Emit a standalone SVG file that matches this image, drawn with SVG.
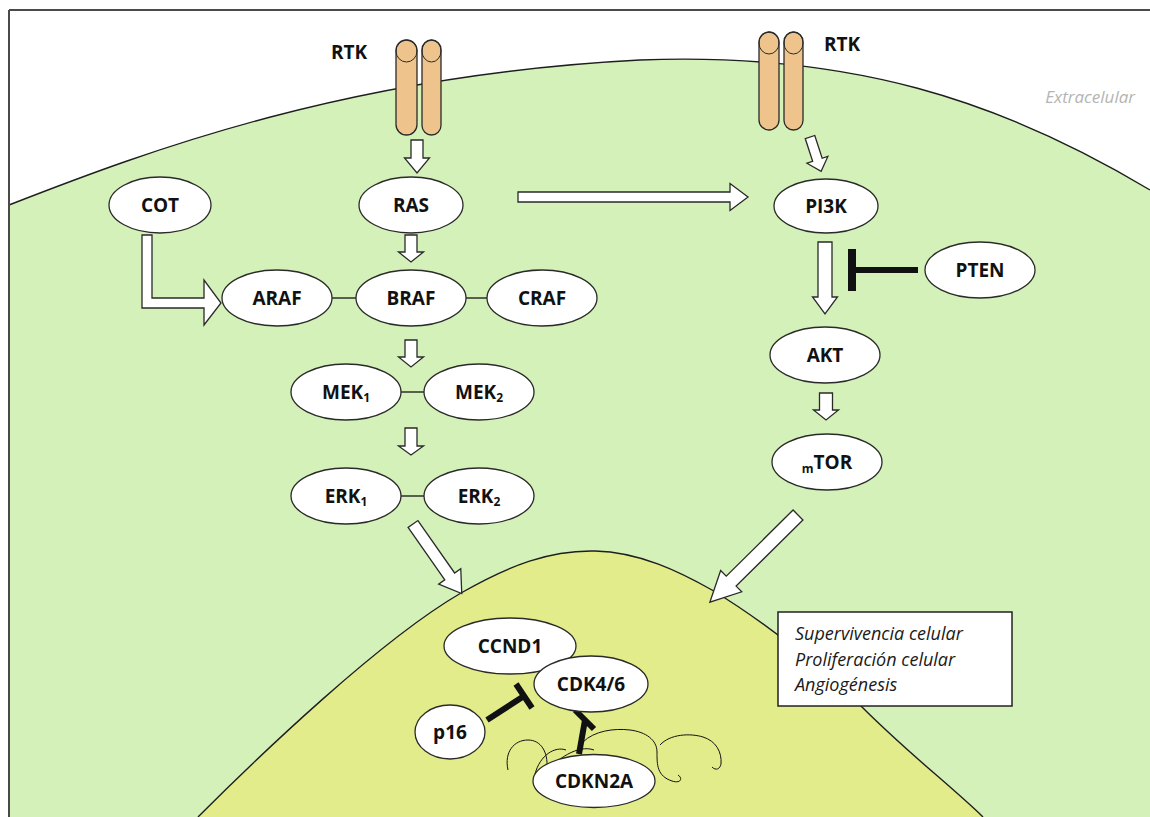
<svg xmlns="http://www.w3.org/2000/svg" width="1150" height="817" viewBox="0 0 1150 817">
<style>
.node ellipse{fill:#ffffff;stroke:#2a2a2a;stroke-width:1.3}
.lbl{font-family:"Open Sans","Liberation Sans",sans-serif;font-weight:700;font-size:19px;fill:#111;text-anchor:middle}
.sub{font-size:12px}
.arr{fill:#ffffff;stroke:#2a2a2a;stroke-width:1.3;stroke-linejoin:miter}
.link{stroke:#111;stroke-width:1.3;fill:none}
.inh{stroke:#111;stroke-width:6;fill:none}
.mem{fill:none;stroke:#1e1e1e;stroke-width:1.4}
.pillar{fill:#efc48c;stroke:#2a2a2a;stroke-width:1.3}
.info{font-family:"Open Sans","Liberation Sans",sans-serif;font-style:italic;font-size:18px;fill:#1a1a1a}
</style>
<rect x="0" y="0" width="1150" height="817" fill="#ffffff"/>
<g id="background">
<path d="M9,205 C150,150 350,75 640,60 C850,52 1000,100 1150,190 L1150,817 L9,817 Z" fill="#d4f1b9"/>
<path class="mem" d="M9,205 C150,150 350,75 640,60 C850,52 1000,100 1150,190"/>
<path d="M198,817 C260,755 380,640 461,593 C510,565 550,550 595,551 C640,552 680,572 712,590 C770,625 830,675 862,707 C910,755 950,785 983,817 Z" fill="#e3ec8b"/>
<path class="mem" d="M198,817 C260,755 380,640 461,593 C510,565 550,550 595,551 C640,552 680,572 712,590 C770,625 830,675 862,707 C910,755 950,785 983,817"/>
<line x1="9" y1="10" x2="1150" y2="10" stroke="#4a4a4a" stroke-width="2"/>
<line x1="9" y1="10" x2="9" y2="817" stroke="#4a4a4a" stroke-width="2"/>
<text x="1135" y="103" font-family="Open Sans, Liberation Sans, sans-serif" font-style="italic" font-size="17" fill="#b4b4b4" text-anchor="end">Extracelular</text>
</g>
<g id="rtk1">
<rect class="pillar" x="396" y="40" width="21" height="95" rx="10.5"/>
<rect class="pillar" x="422" y="40" width="19" height="95" rx="9.5"/>
<ellipse cx="406.5" cy="51" rx="10.5" ry="11" fill="none" stroke="#2a2a2a" stroke-width="1"/>
<ellipse cx="431.5" cy="51" rx="9.5" ry="11" fill="none" stroke="#2a2a2a" stroke-width="1"/>
<text class="lbl" x="349" y="59" font-size="18">RTK</text>
</g>
<g id="rtk2">
<rect class="pillar" x="759" y="32" width="20" height="98" rx="10"/>
<rect class="pillar" x="784" y="32" width="19" height="98" rx="9.5"/>
<ellipse cx="769" cy="43" rx="10" ry="11" fill="none" stroke="#2a2a2a" stroke-width="1"/>
<ellipse cx="793.5" cy="43" rx="9.5" ry="11" fill="none" stroke="#2a2a2a" stroke-width="1"/>
<text class="lbl" x="842" y="51" font-size="18">RTK</text>
</g>
<g id="chromatin" fill="none" stroke="#111" stroke-width="1">
<path d="M508,770 C504,752 514,740 528,740 C541,740 548,752 547,768"/>
<path d="M535,774 C540,755 555,746 566,750"/>
<path d="M583,742 C594,731 614,728 630,730 C646,732 657,740 657,752 C657,765 657,776 672,781 C681,784 683,778 678,775"/>
<path d="M660,745 C670,734 690,733 703,737 C716,741 722,752 721,764 C720,769 716,771 712,767"/>
<path d="M548,772 C555,760 578,744 594,750"/>
</g>
<g id="connectors">
<path class="arr" d="M0,-6 H18 V-12.5 L33,0 L18,12.5 V6 H0 Z" transform="translate(417,140) rotate(90)"/>
<path class="arr" d="M0,-6 H17 V-12.5 L27,0 L17,12.5 V6 H0 Z" transform="translate(411,235) rotate(90)"/>
<path class="arr" d="M0,-6 H17 V-12.5 L27,0 L17,12.5 V6 H0 Z" transform="translate(411,340) rotate(90)"/>
<path class="arr" d="M0,-6 H18 V-12.5 L27,0 L18,12.5 V6 H0 Z" transform="translate(411,428) rotate(90)"/>
<path class="arr" d="M0,-5 H212 V-13.5 L230,0 L212,13.5 V5 H0 Z" transform="translate(518,197)"/>
<path class="arr" d="M0,-5 H24 V-11 L36,0 L24,11 V5 H0 Z" transform="translate(810,137) rotate(72)"/>
<path class="arr" d="M0,-7 H55 V-12.5 L72,0 L55,12.5 V7 H0 Z" transform="translate(825,242) rotate(90)"/>
<path class="arr" d="M0,-6.5 H17 V-12.5 L27,0 L17,12.5 V6.5 H0 Z" transform="translate(826,393) rotate(90)"/>
<path class="arr" d="M0,-6 H64 V-13.5 L85,0 L64,13.5 V6 H0 Z" transform="translate(413,524) rotate(55)"/>
<path class="arr" d="M0,-7 H94 V-15 L124,0 L94,15 V7 H0 Z" transform="translate(798,515) rotate(135.3)"/>
<path class="arr" d="M142,235 L152,235 L152,298 L204,298 L204,280 L221,303 L204,325 L204,308 L142,308 Z"/>
<line class="link" x1="332" y1="298" x2="356" y2="298"/>
<line class="link" x1="466" y1="298" x2="487" y2="298"/>
<line class="link" x1="401" y1="392" x2="424" y2="392"/>
<line class="link" x1="401" y1="496" x2="424" y2="496"/>
<line class="inh" x1="856" y1="270" x2="918" y2="270"/>
<rect x="848" y="249" width="8" height="42" fill="#111"/>
<line class="inh" x1="487" y1="720" x2="524" y2="696"/>
<line class="inh" x1="516" y1="684" x2="532" y2="708"/>
<line class="inh" x1="579" y1="754" x2="585" y2="720"/>
<line class="inh" x1="575" y1="710" x2="594" y2="729"/>
</g>
<g id="cot" class="node"><ellipse cx="160" cy="205" rx="51" ry="28"/><text class="lbl" x="160" y="212">COT</text></g>
<g id="ras" class="node"><ellipse cx="411" cy="205" rx="52" ry="28"/><text class="lbl" x="411" y="212">RAS</text></g>
<g id="pi3k" class="node"><ellipse cx="826" cy="206" rx="52" ry="27"/><text class="lbl" x="826" y="213">PI3K</text></g>
<g id="araf" class="node"><ellipse cx="277" cy="298" rx="55" ry="28"/><text class="lbl" x="277" y="305">ARAF</text></g>
<g id="braf" class="node"><ellipse cx="411" cy="298" rx="55" ry="28"/><text class="lbl" x="411" y="305">BRAF</text></g>
<g id="craf" class="node"><ellipse cx="542" cy="298" rx="55" ry="28"/><text class="lbl" x="542" y="305">CRAF</text></g>
<g id="mek1" class="node"><ellipse cx="346" cy="392" rx="55" ry="28"/><text class="lbl" x="346" y="399">MEK<tspan class="sub" dy="3">1</tspan></text></g>
<g id="mek2" class="node"><ellipse cx="479" cy="392" rx="55" ry="28"/><text class="lbl" x="479" y="399">MEK<tspan class="sub" dy="3">2</tspan></text></g>
<g id="erk1" class="node"><ellipse cx="346" cy="496" rx="55" ry="28"/><text class="lbl" x="346" y="503">ERK<tspan class="sub" dy="3">1</tspan></text></g>
<g id="erk2" class="node"><ellipse cx="479" cy="496" rx="55" ry="28"/><text class="lbl" x="479" y="503">ERK<tspan class="sub" dy="3">2</tspan></text></g>
<g id="pten" class="node"><ellipse cx="980" cy="270" rx="55" ry="28"/><text class="lbl" x="980" y="277">PTEN</text></g>
<g id="akt" class="node"><ellipse cx="825" cy="355" rx="55" ry="28"/><text class="lbl" x="825" y="362">AKT</text></g>
<g id="mtor" class="node"><ellipse cx="827" cy="462" rx="55" ry="28"/><text class="lbl" x="827" y="469"><tspan class="sub" dy="4">m</tspan><tspan dy="-4">TOR</tspan></text></g>
<g id="ccnd1" class="node"><ellipse cx="510" cy="646" rx="66" ry="28"/><text class="lbl" x="510" y="653">CCND1</text></g>
<g id="cdk46" class="node"><ellipse cx="591" cy="684" rx="57" ry="28"/><text class="lbl" x="591" y="691">CDK4/6</text></g>
<g id="p16" class="node"><ellipse cx="450" cy="732" rx="35" ry="27"/><text class="lbl" x="450" y="739">p16</text></g>
<g id="cdkn2a" class="node"><ellipse cx="594" cy="781" rx="61" ry="26.5"/><text class="lbl" x="594" y="788">CDKN2A</text></g>
<g id="outcomes">
<rect x="778" y="612" width="234" height="94" fill="#ffffff" stroke="#222" stroke-width="1.5"/>
<text class="info" x="795" y="640">Supervivencia celular</text>
<text class="info" x="795" y="666">Proliferación celular</text>
<text class="info" x="795" y="691">Angiogénesis</text>
</g>
</svg>
